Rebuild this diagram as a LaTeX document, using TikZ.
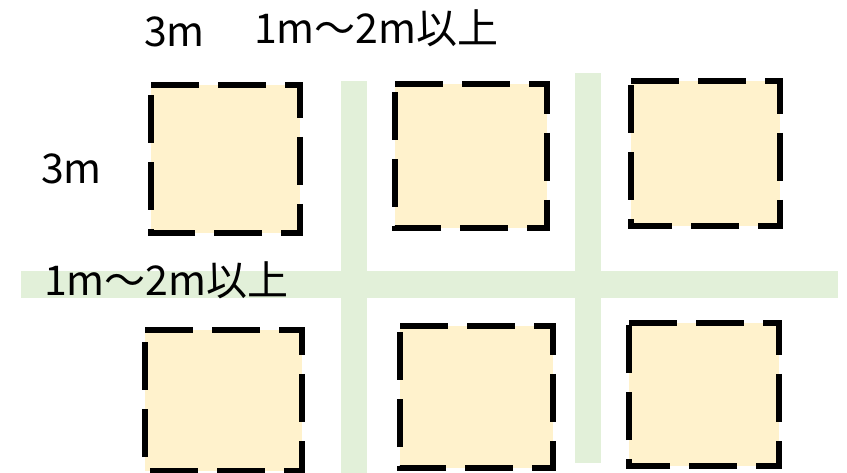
\documentclass[tikz,border=0pt]{standalone}
\usepackage{fontspec}
\setmainfont{Noto Sans CJK JP}
\definecolor{plotfill}{HTML}{FFF2CC}
\definecolor{pathgreen}{HTML}{E2F0D9}
\tikzset{
  plot/.style={fill=plotfill, draw=black, line width=5.5pt, dash pattern=on 48pt off 19pt, line join=miter},
  strip/.style={fill=pathgreen, draw=none},
  lbl/.style={inner sep=0pt, anchor=base west, font=\fontsize{41}{43}\selectfont}
}
\begin{document}
\begin{tikzpicture}[x=1pt,y=-1pt]
\useasboundingbox (0,0) rectangle (847,473);
% green paths
\fill[strip] (21,271) rectangle (838,298);
\fill[strip] (341,81) rectangle (367,473);
\fill[strip] (575,73) rectangle (601,463);
% plots (drawn clockwise from top-left)
\draw[plot] (151,85) -- (300,85) -- (300,233) -- (151,233) -- cycle;
\draw[plot] (395,84) -- (547,84) -- (547,228) -- (395,228) -- cycle;
\draw[plot] (631,81) -- (780,81) -- (780,226) -- (631,226) -- cycle;
\draw[plot] (145,330) -- (302,330) -- (302,471) -- (145,471) -- cycle;
\draw[plot] (400,326) -- (553,326) -- (553,468) -- (400,468) -- cycle;
\draw[plot] (629,323) -- (779,323) -- (779,466) -- (629,466) -- cycle;
% labels
\node[lbl] (topw) at (144,47) {3m};
\node[lbl] (topg) at (254,44) {1m～2m以上};
\node[lbl] (leftw) at (41,184) {3m};
\node[lbl] (leftg) at (44,296) {1m～2m以上};
\end{tikzpicture}
\end{document}
